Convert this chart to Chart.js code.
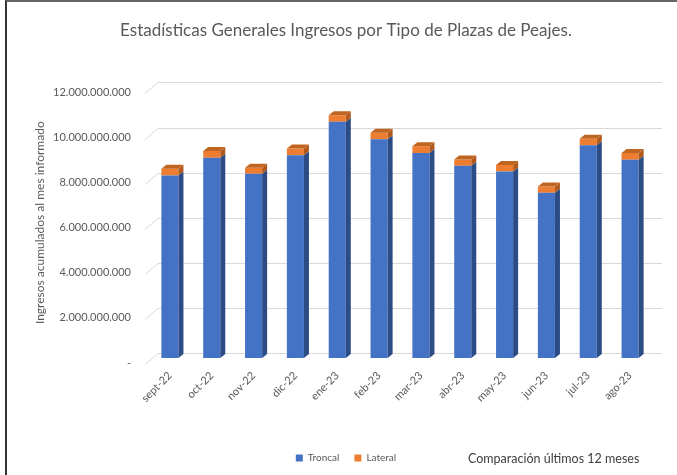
<!DOCTYPE html>
<html>
<head>
<meta charset="utf-8">
<script src="https://cdn.jsdelivr.net/npm/chart.js@4"></script>
<style>
  body { margin: 0; background: #fff; }
  #wrap { position: relative; width: 677px; height: 475px; }
  #frame {
    position: absolute; left: 5px; top: 0; width: 700px; height: 500px;
    border-left: 2px solid #333; border-top: 2px solid #666; pointer-events: none;
  }
  #note {
    position: absolute; left: 468px; top: 451px;
    font: 12.5px Lato, sans-serif; color: #404040; white-space: nowrap;
  }
</style>
</head>
<body>
<div id="wrap">
  <canvas id="chart" width="677" height="475"></canvas>
  <div id="frame"></div>
  <div id="note">Comparación últimos 12 meses</div>
</div>
<script>
const months = ["sept-22", "oct-22", "nov-22", "dic-22", "ene-23", "feb-23",
  "mar-23", "abr-23", "may-23", "jun-23", "jul-23", "ago-23"];
const troncal = [8090000000, 8880000000, 8170000000, 8990000000, 10480000000, 9700000000,
  9090000000, 8530000000, 8270000000, 7330000000, 9430000000, 8790000000];
const lateral = [300000000, 300000000, 270000000, 300000000, 290000000, 290000000,
  300000000, 270000000, 290000000, 270000000, 290000000, 300000000];
const yTicks = [0, 2000000000, 4000000000, 6000000000, 8000000000, 10000000000, 12000000000];

const textColor = "#595959";
const sideColors = ["#2c4c86", "#b25a1c"];
const topColor = "#c0651f";

function fmt(v) {
  if (v === 0) return "-";
  return String(v).replace(/\B(?=(\d{3})+(?!\d))/g, ".");
}

// fake 3D: slanted floor/back gridlines, bar side and top faces
const chart3d = {
  id: "chart3d",
  beforeDatasetsDraw(chart) {
    const { ctx, chartArea, scales: { y } } = chart;
    ctx.save();
    ctx.strokeStyle = "#d9d9d9";
    ctx.lineWidth = 1;
    yTicks.forEach((v) => {
      const p = Math.round(y.getPixelForValue(v)) + 0.5;
      ctx.beginPath();
      ctx.moveTo(chartArea.left - 4, p + 6);
      ctx.lineTo(chartArea.left + 9, p - 5);
      ctx.lineTo(chartArea.right + 11, p - 5);
      ctx.stroke();
    });
    ctx.restore();
  },
  afterDatasetsDraw(chart) {
    const { ctx } = chart;
    const dx = 5, dy = 4;
    const last = chart.data.datasets.length - 1;
    ctx.save();
    chart.data.datasets.forEach((ds, i) => {
      chart.getDatasetMeta(i).data.forEach((bar) => {
        const { x, y, base, width } = bar.getProps(["x", "y", "base", "width"], true);
        const l = x - width / 2, r = x + width / 2;
        ctx.fillStyle = sideColors[i];
        ctx.beginPath();
        ctx.moveTo(r, y);
        ctx.lineTo(r + dx, y - dy);
        ctx.lineTo(r + dx, base - dy);
        ctx.lineTo(r, base);
        ctx.closePath();
        ctx.fill();
        if (i === last) {
          ctx.fillStyle = topColor;
          ctx.beginPath();
          ctx.moveTo(l, y);
          ctx.lineTo(r, y);
          ctx.lineTo(r + dx, y - dy);
          ctx.lineTo(l + dx, y - dy);
          ctx.closePath();
          ctx.fill();
        }
      });
    });
    ctx.restore();
  },
};

const ctx = document.getElementById("chart").getContext("2d");
const chart = new Chart(ctx, {
  type: "bar",
  data: {
    labels: months,
    datasets: [
      {
        label: "Troncal",
        data: troncal,
        backgroundColor: "#4472c4",
        barPercentage: 0.8,
        categoryPercentage: 0.51,
      },
      {
        label: "Lateral",
        data: lateral,
        backgroundColor: "#ed7d31",
        barPercentage: 0.8,
        categoryPercentage: 0.51,
      },
    ],
  },
  options: {
    responsive: false,
    animation: false,
    layout: {
      padding: { left: 41, right: 26, top: 0, bottom: 2 },
    },
    scales: {
      x: {
        stacked: true,
        grid: { display: false, drawTicks: false },
        border: { display: false },
        ticks: {
          color: textColor,
          font: { family: "Lato", size: 11 },
          minRotation: 45,
          maxRotation: 45,
          padding: 11,
        },
        afterFit(scale) {
          scale.height = 80;
        },
      },
      y: {
        stacked: true,
        min: 0,
        max: 12000000000,
        grid: { display: false, drawTicks: false },
        border: { display: false },
        ticks: {
          stepSize: 2000000000,
          color: textColor,
          padding: 18,
          labelOffset: 5,
          font: { family: "Lato", size: 11 },
          callback: (v) => fmt(v),
        },
        title: {
          display: true,
          text: "Ingresos acumulados al mes informado",
          color: textColor,
          font: { family: "Lato", size: 12 },
          padding: { top: -8, bottom: 0 },
        },
        afterFit(scale) {
          scale.width = 108;
        },
      },
    },
    plugins: {
      title: {
        display: true,
        text: "Estadísticas Generales Ingresos por Tipo de Plazas de Peajes.",
        color: textColor,
        font: { family: "Lato", size: 17, weight: "normal" },
        padding: { top: 20, bottom: 47 },
      },
      legend: {
        position: "bottom",
        labels: {
          color: textColor,
          font: { family: "Lato", size: 10 },
          boxWidth: 7,
          boxHeight: 7,
          padding: 15,
        },
      },
      tooltip: { enabled: false },
    },
  },
  plugins: [chart3d],
});
</script>
</body>
</html>
